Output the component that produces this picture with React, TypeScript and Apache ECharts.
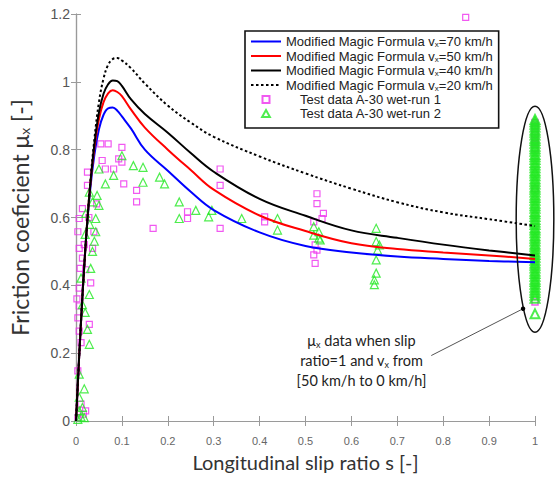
import React, { useEffect, useRef } from "react";
import * as echarts from "echarts";

// Slip ratio sample points for the Modified Magic Formula curves
const slip = [0, 0.01, 0.02, 0.03, 0.04, 0.05, 0.06, 0.07, 0.08, 0.09, 0.1, 0.12, 0.15, 0.2, 0.25, 0.3, 0.4, 0.5, 0.6, 0.7, 0.8, 0.9, 1.0];
const mu70 = [0, 0.27, 0.5, 0.67, 0.785, 0.86, 0.903, 0.922, 0.924, 0.915, 0.898, 0.862, 0.8, 0.738, 0.676, 0.622, 0.556, 0.516, 0.497, 0.485, 0.478, 0.472, 0.468];
const mu50 = [0, 0.27, 0.5, 0.68, 0.805, 0.89, 0.94, 0.966, 0.975, 0.97, 0.958, 0.918, 0.865, 0.8, 0.74, 0.682, 0.606, 0.56, 0.524, 0.507, 0.497, 0.488, 0.478];
const mu40 = [0, 0.27, 0.5, 0.68, 0.815, 0.91, 0.965, 0.993, 1.004, 1.002, 0.988, 0.948, 0.905, 0.85, 0.79, 0.735, 0.655, 0.605, 0.562, 0.54, 0.52, 0.503, 0.488];
const mu20 = [0, 0.27, 0.5, 0.685, 0.83, 0.94, 1.01, 1.05, 1.067, 1.07, 1.063, 1.04, 0.995, 0.93, 0.88, 0.838, 0.78, 0.73, 0.685, 0.645, 0.615, 0.595, 0.575];

// Test data A-30 wet-run 1 (magenta squares): [slip, mu]
const run1Points = [
  [0.021, 0.03], [0.016, 0.02], [0.004, 0.01], [0.011, 0.05], [0.004, 0.148], [0.011, 0.231],
  [0.007, 0.265], [0.029, 0.285], [0.004, 0.304], [0.007, 0.339], [0.002, 0.36], [0.007, 0.392],
  [0.009, 0.45], [0.032, 0.407], [0.021, 0.446], [0.014, 0.48], [0.007, 0.509], [0.036, 0.509],
  [0.018, 0.52], [0.004, 0.558], [0.039, 0.558], [0.007, 0.597], [0.014, 0.626], [0.028, 0.6],
  [0.045, 0.64], [0.025, 0.695], [0.025, 0.734], [0.054, 0.817], [0.07, 0.817], [0.1, 0.807],
  [0.093, 0.773], [0.1, 0.763], [0.057, 0.768], [0.064, 0.743], [0.082, 0.743], [0.104, 0.699],
  [0.132, 0.68], [0.132, 0.646], [0.168, 0.568], [0.243, 0.617], [0.243, 0.597], [0.314, 0.743],
  [0.314, 0.695], [0.314, 0.568], [0.411, 0.602], [0.411, 0.587], [0.525, 0.67], [0.525, 0.641],
  [0.536, 0.597], [0.539, 0.612], [0.518, 0.587], [0.521, 0.519], [0.525, 0.504], [0.518, 0.49],
  [0.521, 0.465], [0.849, 1.19],
];
// run 1 values measured at slip ratio = 1
const run1AtFullSlip = [0.88, 0.87, 0.862, 0.853, 0.845, 0.836, 0.826, 0.815, 0.803, 0.685, 0.351];

// Test data A-30 wet-run 2 (green triangles): [slip, mu]
const run2Points = [
  [0.011, 0.012], [0.004, 0.005], [0.018, 0.01], [0.007, 0.03], [0.014, 0.04], [0.007, 0.07],
  [0.018, 0.095], [0.007, 0.138], [0.029, 0.226], [0.025, 0.27], [0.02, 0.32], [0.014, 0.343],
  [0.029, 0.373], [0.011, 0.421], [0.032, 0.45], [0.036, 0.5], [0.04, 0.53], [0.02, 0.55],
  [0.043, 0.558], [0.03, 0.58], [0.043, 0.597], [0.021, 0.612], [0.05, 0.636], [0.036, 0.646],
  [0.046, 0.665], [0.029, 0.675], [0.05, 0.743], [0.064, 0.699], [0.082, 0.724], [0.1, 0.782],
  [0.125, 0.753], [0.146, 0.748], [0.146, 0.704], [0.182, 0.719], [0.193, 0.699], [0.225, 0.646],
  [0.225, 0.597], [0.261, 0.621], [0.296, 0.621], [0.289, 0.602], [0.361, 0.597], [0.439, 0.597],
  [0.439, 0.563], [0.518, 0.573], [0.529, 0.558], [0.529, 0.539], [0.518, 0.548], [0.532, 0.534],
  [0.654, 0.568], [0.654, 0.529], [0.661, 0.519], [0.657, 0.504], [0.654, 0.475], [0.654, 0.436],
  [0.65, 0.416], [0.65, 0.402],
];
// run 2 values measured at slip ratio = 1
const run2AtFullSlip = [
  0.316, 0.362, 0.371, 0.379, 0.386, 0.394, 0.403, 0.411, 0.418, 0.427, 0.435, 0.442, 0.451, 0.459,
  0.466, 0.474, 0.483, 0.491, 0.498, 0.507, 0.515, 0.522, 0.531, 0.539, 0.546, 0.555, 0.563, 0.57,
  0.579, 0.587, 0.594, 0.603, 0.611, 0.618, 0.627, 0.635, 0.642, 0.651, 0.659, 0.666, 0.675, 0.683,
  0.69, 0.699, 0.707, 0.714, 0.723, 0.731, 0.738, 0.747, 0.755, 0.762, 0.771, 0.779, 0.786, 0.795,
  0.803, 0.81, 0.819, 0.827, 0.834, 0.843, 0.851, 0.858, 0.867, 0.875, 0.882, 0.889,
];

const seriesNames = [
  "Modified Magic Formula vx=70 km/h",
  "Modified Magic Formula vx=50 km/h",
  "Modified Magic Formula vx=40 km/h",
  "Modified Magic Formula vx=20 km/h",
  "Test data A-30 wet-run 1",
  "Test data A-30 wet-run 2",
];

const annotationLines = ["{t|μ}{s|x}{t| data when slip}", "{t|ratio=1 and v}{s|x}{t| from}", "{t|[50 km/h to 0 km/h]}"];

const AXIS_COLOR = "#9a9a9a";
const TITLE_FONT = "Lato, 'Open Sans', sans-serif";
const ARIAL = "'Liberation Sans', Arial, sans-serif";
const MAGENTA = "#ee30ee";
const GREEN = "#22e822";

export default function App() {
  const ref = useRef<HTMLDivElement>(null);
  useEffect(() => {
    const chart = echarts.init(ref.current!, null, { renderer: "svg" });
    const curve = (vals: number[]) => slip.map((s, i) => [s, vals[i]]);
    const lineSeries = (name: string, vals: number[], color: string, type: any = "solid") => ({
      name,
      type: "line",
      data: curve(vals),
      symbol: "none",
      smooth: 0.4,
      lineStyle: { color, width: 2, type },
      itemStyle: { color },
      z: 5,
    });
    const baseAxis = {
      axisLine: { show: true, lineStyle: { color: AXIS_COLOR, width: 1.2 } },
      axisTick: { show: true, inside: true, length: 5, lineStyle: { color: AXIS_COLOR } },
      splitLine: { show: false },
    };
    const fullSlipStyle = (color: string) => ({ color: "rgba(255,255,255,0)", borderColor: color, borderWidth: 2 });
    chart.setOption({
      animation: false,
      backgroundColor: "#fff",
      grid: { left: 70, right: 25, top: 14, bottom: 53 },
      xAxis: [
        {
          ...baseAxis,
          type: "value",
          min: 0,
          max: 1,
          interval: 0.1,
          name: "Longitudinal slip ratio s [-]",
          nameLocation: "middle",
          nameGap: 31,
          nameTextStyle: { fontFamily: TITLE_FONT, fontSize: 20, color: "#333" },
          axisLabel: { fontFamily: ARIAL, fontSize: 11, color: "#666", margin: 14 },
        },
        {
          ...baseAxis,
          type: "value",
          position: "top",
          min: 0,
          max: 1,
          interval: 0.1,
          axisLabel: { show: false },
        },
      ],
      yAxis: [
        {
          ...baseAxis,
          type: "value",
          min: 0,
          max: 1.2,
          interval: 0.2,
          name: "Friction coeficient μ{s|x} [-]",
          nameLocation: "middle",
          nameGap: 45,
          nameTextStyle: {
            fontFamily: TITLE_FONT,
            fontSize: 23,
            color: "#333",
            rich: { s: { fontFamily: TITLE_FONT, fontSize: 14, color: "#333", verticalAlign: "bottom", lineHeight: 14 } },
          },
          axisLabel: { fontFamily: ARIAL, fontSize: 14, color: "#555", margin: 6 },
        },
        {
          ...baseAxis,
          type: "value",
          position: "right",
          min: 0,
          max: 1.2,
          interval: 0.2,
          axisLabel: { show: false },
        },
      ],
      legend: {
        orient: "vertical",
        left: 245,
        top: 31,
        data: [
          ...seriesNames.slice(0, 4).map((name) => ({ name, itemStyle: { opacity: 0 } })),
          { name: seriesNames[4], icon: "path://M0,0L10,0L10,10L0,10Z" },
          { name: seriesNames[5], icon: "path://M5,0L10,9L0,9Z" },
        ],
        backgroundColor: "#fff",
        borderColor: "#111",
        borderWidth: 1.6,
        borderRadius: 0,
        padding: [4, 6, 8, 5],
        itemGap: 1,
        itemWidth: 30,
        itemHeight: 7,
        symbolKeepAspect: true,
        formatter: (name: string) => {
          if (name.startsWith("Test")) return `{p|${name}}`;
          const parts = name.split("vx");
          return `{t|${parts[0]}v}{s|x}{t|${parts[1]}}`;
        },
        textStyle: {
          fontFamily: ARIAL,
          fontSize: 13,
          color: "#222",
          rich: {
            t: { fontFamily: ARIAL, fontSize: 13, color: "#222", lineHeight: 14 },
            s: { fontFamily: ARIAL, fontSize: 8, color: "#222", lineHeight: 9, verticalAlign: "bottom" },
            p: { fontFamily: ARIAL, fontSize: 13, color: "#222", lineHeight: 14, padding: [0, 0, 0, 14] },
          },
        },
      },
      series: [
        lineSeries(seriesNames[0], mu70, "#0000ff"),
        lineSeries(seriesNames[1], mu50, "#ff0000"),
        lineSeries(seriesNames[2], mu40, "#000000"),
        lineSeries(seriesNames[3], mu20, "#000000", [2.5, 2.5]),
        {
          name: seriesNames[4],
          type: "scatter",
          symbol: "rect",
          symbolSize: 6,
          data: [
            ...run1Points,
            ...run1AtFullSlip.map((m) => ({ value: [1, m], itemStyle: { borderWidth: 1.5 } })),
          ],
          itemStyle: { color: "rgba(255,255,255,0)", borderColor: MAGENTA, borderWidth: 1.2 },
          z: 3,
        },
        {
          name: seriesNames[5],
          type: "scatter",
          symbol: "triangle",
          symbolSize: 8,
          data: [
            ...run2Points,
            ...run2AtFullSlip.map((m) => ({ value: [1, m], symbolSize: 9, itemStyle: fullSlipStyle(GREEN) })),
          ],
          itemStyle: { color: "rgba(255,255,255,0)", borderColor: GREEN, borderWidth: 1.2 },
          z: 3,
        },
      ],
    });

    const px = (s: number, m: number) => chart.convertToPixel({ xAxisIndex: 0, yAxisIndex: 0 }, [s, m]) as number[];
    const c = px(1, 0.595);
    const top = px(1, 0.928);
    const side = px(0.959, 0.595);
    const a = px(0.774, 0.193);
    const b = px(0.974, 0.331);
    const textYs = [0.237, 0.179, 0.12];
    const richAnn = {
      t: { fontFamily: TITLE_FONT, fontSize: 14.5, fill: "#222", lineHeight: 17 },
      s: { fontFamily: TITLE_FONT, fontSize: 9, fill: "#222", lineHeight: 11, verticalAlign: "bottom" },
    };
    chart.setOption({
      graphic: [
        {
          type: "ellipse",
          shape: { cx: c[0], cy: c[1], rx: c[0] - side[0], ry: c[1] - top[1] },
          style: { fill: "none", stroke: "#111", lineWidth: 1.5 },
          z: 100,
        },
        {
          type: "line",
          shape: { x1: a[0], y1: a[1], x2: b[0], y2: b[1] },
          style: { stroke: "#555", lineWidth: 1 },
          z: 100,
        },
        { type: "circle", shape: { cx: b[0], cy: b[1], r: 2.2 }, style: { fill: "#000" }, z: 101 },
        ...annotationLines.map((txt, i) => {
          const p = px(0.622, textYs[i]);
          return {
            type: "text",
            x: p[0],
            y: p[1],
            z: 100,
            style: { text: txt, rich: richAnn, align: "center", verticalAlign: "middle", fill: "#222", fontFamily: TITLE_FONT, fontSize: 14.5 },
          };
        }),
      ],
    });
    return () => chart.dispose();
  }, []);
  return <div ref={ref} style={{ position: "fixed", left: 0, top: 0, width: 560, height: 477 }} />;
}
